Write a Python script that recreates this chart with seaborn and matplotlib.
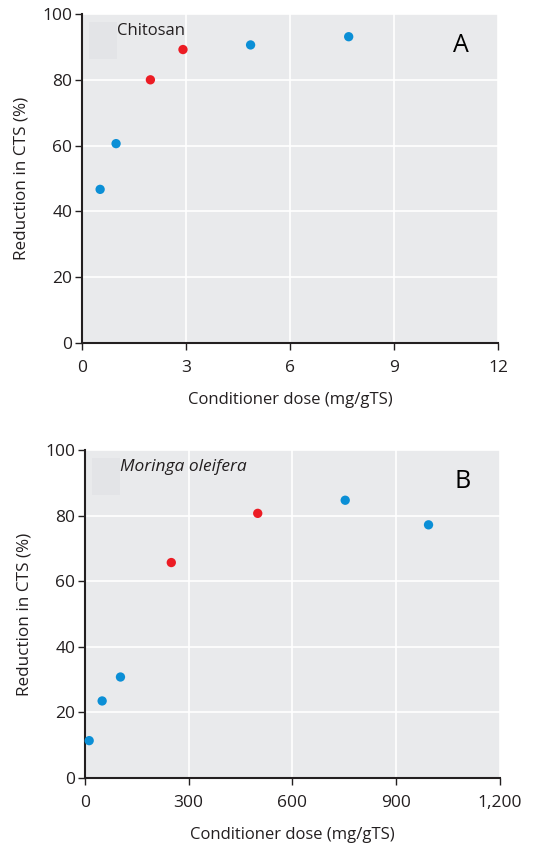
import pandas as pd
import seaborn as sns
import matplotlib.pyplot as plt
import matplotlib.patches as mpatches
from matplotlib.ticker import FuncFormatter

# Panel A: chitosan
chitosan_dose = [0.52, 0.98, 1.97, 2.91, 4.86, 7.69]
chitosan_reduction = [46.7, 60.6, 80.0, 89.2, 90.6, 93.1]
chitosan_group = ['other', 'other', 'optimum', 'optimum', 'other', 'other']

# Panel B: Moringa oleifera
moringa_dose = [12.5, 50, 103, 250, 500, 753, 994]
moringa_reduction = [11.4, 23.5, 30.8, 65.7, 80.7, 84.7, 77.2]
moringa_group = ['other', 'other', 'other', 'optimum', 'optimum', 'other', 'other']

x_ticks_a = [0, 3, 6, 9, 12]
x_ticks_b = [0, 300, 600, 900, 1200]
y_ticks = [0, 20, 40, 60, 80, 100]

sns.set_theme(style='darkgrid')
plt.rcParams['font.family'] = ['Open Sans', 'DejaVu Sans']

palette = {'other': '#0b8fd6', 'optimum': '#ec1c24'}
dark = '#231f20'

fig = plt.figure(figsize=(5.51, 8.49), dpi=100)
ax_a = fig.add_axes([0.149, 0.596, 0.755, 0.3875])
ax_b = fig.add_axes([0.154, 0.0836, 0.753, 0.3863])

df_a = pd.DataFrame({'dose': chitosan_dose, 'reduction': chitosan_reduction, 'group': chitosan_group})
df_b = pd.DataFrame({'dose': moringa_dose, 'reduction': moringa_reduction, 'group': moringa_group})


def style_axis(ax, xticks, label, letter, italic):
    ax.set_facecolor('#e9eaec')
    ax.grid(True, color='white', linewidth=1.2)
    ax.set_axisbelow(True)
    ax.set_xlim(xticks[0], xticks[-1])
    ax.set_ylim(0, 100)
    ax.set_xticks(xticks)
    ax.set_yticks(y_ticks)
    for side in ['top', 'right']:
        ax.spines[side].set_visible(False)
    for side in ['left', 'bottom']:
        ax.spines[side].set_visible(True)
        ax.spines[side].set_color(dark)
        ax.spines[side].set_linewidth(1.5)
    ax.tick_params(axis='both', which='major', direction='out', length=5, width=1.0,
                   color=dark, labelcolor=dark, labelsize=12.5, bottom=True, left=True, pad=2)
    ax.tick_params(axis='x', pad=7)
    ax.set_xlabel('Conditioner dose (mg/gTS)', fontsize=12, color=dark, labelpad=12)
    ax.set_ylabel('Reduction in CTS (%)', fontsize=12.3, color=dark, labelpad=9)
    ax.add_patch(mpatches.Rectangle((0.017, 0.863), 0.067, 0.113, transform=ax.transAxes,
                                    facecolor='#e3e4e7', edgecolor='none', zorder=1))
    ax.text(0.084, 0.948, label, transform=ax.transAxes, fontsize=12.5 if italic else 12,
            color=dark, style='italic' if italic else 'normal', va='center', ha='left')
    ax.text(0.91, 0.905, letter, transform=ax.transAxes, fontsize=18, color='black',
            va='center', ha='center')
    if ax.legend_:
        ax.legend_.remove()


sns.scatterplot(data=df_a, x='dose', y='reduction', hue='group', palette=palette,
                s=45, linewidth=0, ax=ax_a, zorder=3, clip_on=False)
style_axis(ax_a, x_ticks_a, 'Chitosan', 'A', False)

sns.scatterplot(data=df_b, x='dose', y='reduction', hue='group', palette=palette,
                s=45, linewidth=0, ax=ax_b, zorder=3, clip_on=False)
style_axis(ax_b, x_ticks_b, 'Moringa oleifera', 'B', True)
ax_b.xaxis.set_major_formatter(FuncFormatter(lambda v, p: f'{int(v):,}'))

fig.savefig('out.png', dpi=100)
